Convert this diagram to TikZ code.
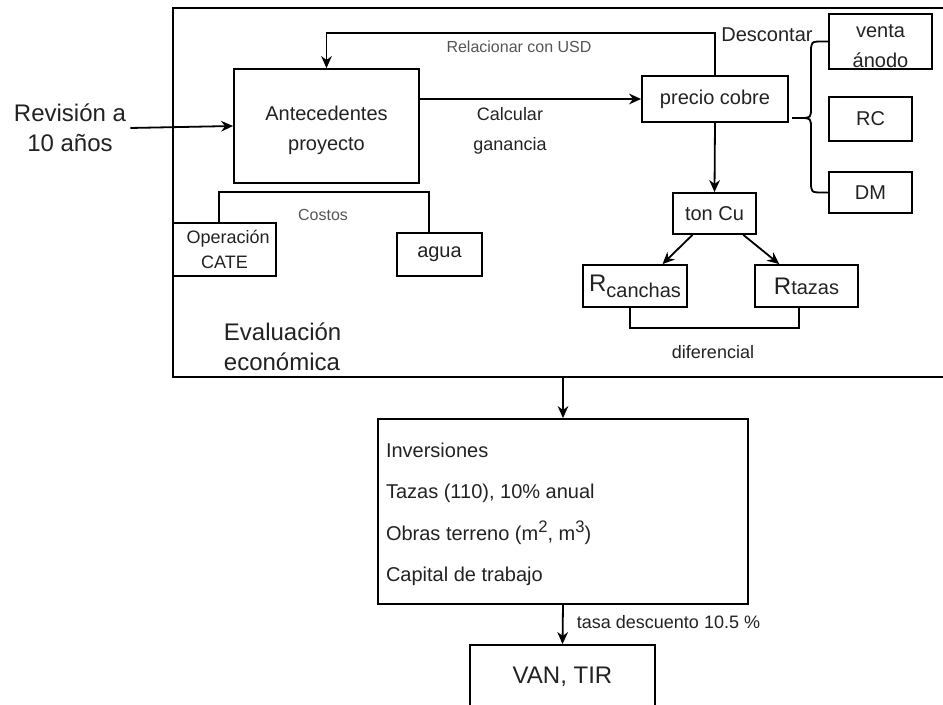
\documentclass[tikz,border=0pt]{standalone}
\usepackage{fontspec}
\setmainfont{Liberation Sans}
\usetikzlibrary{calc,arrows.meta}
\definecolor{txt}{HTML}{222222}
\definecolor{lbl}{HTML}{555555}
\begin{document}
\begin{tikzpicture}[x=0.75pt,y=-0.75pt,
  line/.style={line width=1.35pt, draw=black},
  box/.style={draw=black, line width=1.35pt, inner sep=0pt, align=center, text=txt},
  sz/.style 2 args={minimum width=#1*0.75pt, minimum height=#2*0.75pt},
  arr/.style={line, -{Stealth[length=9pt,width=8pt]}},
  fa/.style={font=\fontsize{15}{22.5}\selectfont},
  fb/.style={font=\fontsize{13.5}{22.5}\selectfont},
  fc/.style={font=\fontsize{18}{22.5}\selectfont},
  fd/.style={font=\fontsize{12}{14}\selectfont, text=lbl},
  plain/.style={inner sep=2pt, text=txt, align=center}
]
\useasboundingbox (0,0) rectangle (943,705);

% outer frame
\node[box, sz={776}{369}] (outer) at (561,192.5) {};

% left input
\node[plain, fc, inner sep=3pt] (rev) at (70,128) {Revisión a\\10 años};

% main boxes
\node[box, sz={185}{114}, label={[plain,fa,yshift=-3pt]center:{Antecedentes\\proyecto}}] (ante) at (326.5,126) {};
\node[box, fa, sz={146}{46}] (precio) at (715,99) {precio cobre};
\node[box, sz={103}{55}, label={[plain,fa,yshift=-3.5pt]center:{venta\\ánodo}}] (venta) at (880.5,41.5) {};
\node[box, fa, sz={83}{44}] (rc) at (870.5,119) {RC};
\node[box, fa, sz={83}{41}] (dm) at (870.5,192.5) {DM};
\node[box, fa, sz={83}{41}] (ton) at (714.5,213.5) {ton Cu};
\node[box, sz={104}{42}] (rca) at (635,286) {\raisebox{1.5pt}{\fontsize{18}{18}\selectfont R\raisebox{-4.5pt}{\fontsize{15}{15}\selectfont canchas}}};
\node[box, sz={103}{42}] (rta) at (806.5,286) {\fontsize{18}{18}\selectfont R{\fontsize{15}{15}\selectfont tazas}};
\node[box, sz={103}{53}] (op) at (224.5,249.5) {\parbox{2cm}{\centering\fontsize{13.5}{18.75}\selectfont Operación\\CATE}};
\node[box, fa, sz={85}{43}] (agua) at (439.5,254.5) {agua};
\node[box, sz={370}{185}] (inv) at (563,511.5) {};
\node[box, fc, sz={185}{63}] (van) at (562.5,676.5) {VAN, TIR};

% text labels
\node[plain, fc, anchor=west, align=left] (eval) at (221,347) {Evaluación\\económica};
\node[plain, fb] (calc) at (510,131) {Calcular\\ganancia};
\node[plain, fd] (usd) at (519,47) {Relacionar con USD};
\node[plain, fa] (desc) at (767,35) {Descontar};
\node[plain, fd] (costos) at (323,215) {Costos};
\node[plain, fb] (dif) at (713,352) {diferencial};
\node[plain, fb, anchor=west] (tasa) at (574,622) {tasa descuento 10.5 \%};
\node[plain, anchor=west, align=left, font=\fontsize{15}{31}\selectfont] (invtxt) at ([xshift=4.5pt,yshift=-2pt]inv.west)
  {Inversiones\\Tazas (110), 10\% anual\\Obras terreno (m\raisebox{6pt}{\fontsize{12.5}{12}\selectfont 2}, m\raisebox{6pt}{\fontsize{12.5}{12}\selectfont 3})\\Capital de trabajo};

% connectors
\draw[arr] (rev.east) -- (ante.west);
\draw[arr] (ante.east |- precio.west) -- (precio.west);
\draw[arr] (precio.north) -- ++(0,-42) -| (ante.north);
\draw[arr] (precio.south) -- (ton.north);
\draw[arr] ($(ton.south west)!0.24!(ton.south east)$) -- ($(rca.north west)!0.76!(rca.north east)$);
\draw[arr] ($(ton.south west)!0.84!(ton.south east)$) -- ($(rta.north west)!0.24!(rta.north east)$);
\draw[line] ($(rca.south west)!0.45!(rca.south east)$) -- ++(0,20) -| ($(rta.south west)!0.43!(rta.south east)$);
\draw[line] ($(op.north west)!0.45!(op.north east)$) -- ++(0,-30) -| ($(agua.north west)!0.38!(agua.north east)$);
\draw[arr] (inv.north |- outer.south) -- (inv.north);
\draw[arr] (inv.south) -- (van.north);

% curly brace
\coordinate (tip) at (792,118);
\draw[line] (venta.west) -- (823,41.5) .. controls (811,41.5) .. (811,53) -- (811,107)
  .. controls (811,118) .. (800,118) -- (tip);
\draw[line] (800,118) .. controls (811,118) .. (811,129) -- (811,181)
  .. controls (811,192.5) .. (823,192.5) -- (dm.west);
\end{tikzpicture}
\end{document}
